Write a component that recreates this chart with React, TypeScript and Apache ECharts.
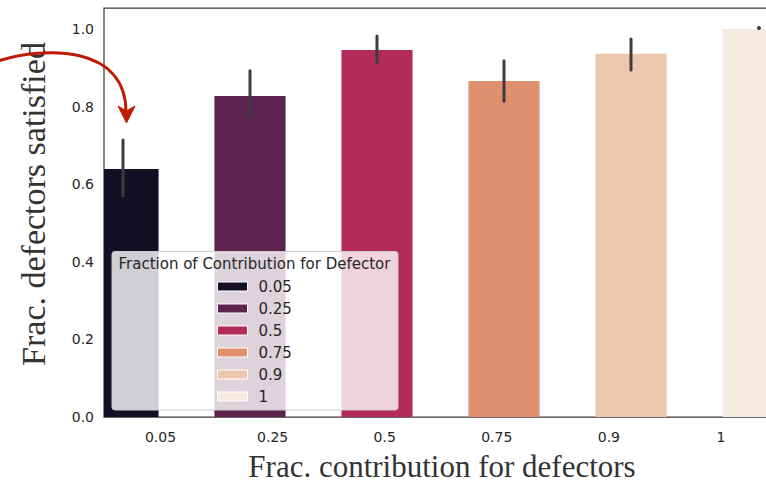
import React, { useEffect, useRef } from "react";
import * as echarts from "echarts";

const categories = ["0.05", "0.25", "0.5", "0.75", "0.9", "1"];
const meanValues = [0.639, 0.827, 0.946, 0.866, 0.936, 1.0];
const errLow = [0.57, 0.776, 0.912, 0.814, 0.894, 1.0];
const errHigh = [0.714, 0.892, 0.982, 0.918, 0.974, 1.0];
const barColors = ["#140f24", "#5b234d", "#b32c57", "#e1906f", "#ecc7ae", "#f6e9df"];
const yTicks = [0, 0.2, 0.4, 0.6, 0.8, 1.0];

export default function App() {
  const ref = useRef<HTMLDivElement>(null);
  useEffect(() => {
    if (!ref.current) return;
    const chart = echarts.init(ref.current, undefined, { renderer: "svg" });
    const font = "DejaVu Sans";
    const barHalf = 0.28; // half bar width in category units
    const barSeries = categories.map((c, i) => ({
      type: "custom",
      name: c,
      xAxisIndex: 0,
      yAxisIndex: 0,
      data: [[i, meanValues[i]]],
      encode: { x: 0, y: 1 },
      itemStyle: { color: barColors[i] },
      z: 2,
      renderItem: (params: any, api: any) => {
        const x = api.value(0);
        const v = api.value(1);
        const p0 = api.coord([x - barHalf, v]);
        const p1 = api.coord([x + barHalf, 0]);
        const rect = echarts.graphic.clipRectByRect(
          { x: p0[0], y: p0[1], width: p1[0] - p0[0], height: p1[1] - p0[1] },
          {
            x: params.coordSys.x,
            y: params.coordSys.y,
            width: params.coordSys.width,
            height: params.coordSys.height,
          }
        );
        if (!rect) return null;
        return { type: "rect", shape: rect, style: { fill: barColors[i] } };
      },
    }));
    const errData = categories.map((_, i) => [i, errLow[i], errHigh[i]]);
    const hiddenAxis = {
      axisLine: { show: false },
      axisTick: { show: false },
      splitLine: { show: false },
    };
    chart.setOption({
      animation: false,
      backgroundColor: "#ffffff",
      grid: [
        {
          left: 104,
          top: 8,
          width: 717.5,
          height: 409,
          outerBoundsMode: "none",
          containLabel: false,
          show: true,
          borderColor: "#3a3a3a",
          borderWidth: 1.25,
          backgroundColor: "transparent",
        },
        {
          left: 104.5,
          top: 8,
          width: 672.5,
          height: 409,
          outerBoundsMode: "none",
          containLabel: false,
          show: false,
        },
      ],
      xAxis: [
        {
          type: "value",
          gridIndex: 0,
          min: -0.1496,
          max: 5.5,
          ...hiddenAxis,
          axisLabel: { show: false },
        },
        {
          type: "category",
          gridIndex: 1,
          data: categories,
          ...hiddenAxis,
          axisLabel: {
            color: "#262626",
            fontFamily: font,
            fontSize: 14,
            margin: 13,
            interval: 0,
          },
        },
      ],
      yAxis: [
        {
          type: "value",
          gridIndex: 0,
          min: 0,
          max: 1.054,
          interval: 0.2,
          ...hiddenAxis,
          axisLabel: {
            showMaxLabel: false,
            formatter: (v: number) => (yTicks.some((t) => Math.abs(t - v) < 1e-6) ? v.toFixed(1) : ""),
            color: "#262626",
            fontFamily: font,
            fontSize: 14,
            margin: 10,
          },
        },
        {
          type: "value",
          gridIndex: 1,
          min: 0,
          max: 1,
          show: false,
        },
      ],
      legend: {
        orient: "vertical",
        left: 212,
        top: 274,
        itemWidth: 30,
        itemHeight: 9,
        itemGap: 7,
        icon: "rect",
        z: 60,
        data: categories,
        itemStyle: { borderColor: "#ffffff", borderWidth: 1 },
        textStyle: { color: "#262626", fontFamily: font, fontSize: 15, padding: [0, 0, 0, 6] },
        selectedMode: false,
      },
      graphic: [
        {
          type: "rect",
          z: 50,
          shape: { x: 112, y: 251.5, width: 286, height: 158.5, r: 3 },
          style: { fill: "rgba(255,255,255,0.8)", stroke: "#cccccc", lineWidth: 1 },
        },
        {
          type: "text",
          z: 70,
          x: 254.5,
          y: 264,
          style: {
            text: "Fraction of Contribution for Defector",
            fill: "#262626",
            font: `15px "${font}"`,
            align: "center",
            verticalAlign: "middle",
          },
        },
        {
          type: "text",
          z: 70,
          x: 442,
          y: 466,
          style: {
            text: "Frac. contribution for defectors",
            fill: "#333333",
            font: `31px "Liberation Serif"`,
            align: "center",
            verticalAlign: "middle",
          },
        },
        {
          type: "text",
          z: 70,
          x: 33,
          y: 204,
          rotation: Math.PI / 2,
          style: {
            text: "Frac. defectors satisfied",
            fill: "#333333",
            font: `34px "Liberation Serif"`,
            align: "center",
            verticalAlign: "middle",
          },
        },
        {
          type: "bezierCurve",
          z: 80,
          shape: { x1: -2, y1: 61, cpx1: 45, cpy1: 46, cpx2: 126, cpy2: 45, x2: 126, y2: 112 },
          style: { stroke: "#c01a06", lineWidth: 3, fill: "none" },
        },
        {
          type: "polygon",
          z: 81,
          shape: { points: [[126.5, 123], [118, 106], [126.5, 111], [135, 106]] },
          style: { fill: "#c01a06", stroke: "#c01a06", lineWidth: 1 },
        },
      ],
      series: [
        ...barSeries,
        {
          type: "custom",
          name: "err",
          xAxisIndex: 0,
          yAxisIndex: 0,
          z: 10,
          data: errData,
          encode: { x: 0, y: [1, 2] },
          renderItem: (_params: any, api: any) => {
            const p1 = api.coord([api.value(0), api.value(1)]);
            const p2 = api.coord([api.value(0), api.value(2)]);
            if (Math.abs(p1[1] - p2[1]) < 1) {
              return {
                type: "circle",
                shape: { cx: p1[0] + 1, cy: p1[1] - 1, r: 2 },
                style: { fill: "#3d3d3d" },
              };
            }
            return {
              type: "line",
              shape: { x1: p1[0], y1: p1[1], x2: p2[0], y2: p2[1] },
              style: { stroke: "#3d3d3d", lineWidth: 3, lineCap: "round" },
            };
          },
        },
      ],
    });
    return () => chart.dispose();
  }, []);
  return <div ref={ref} style={{ width: 766, height: 483, position: "absolute", left: 0, top: 0 }} />;
}
